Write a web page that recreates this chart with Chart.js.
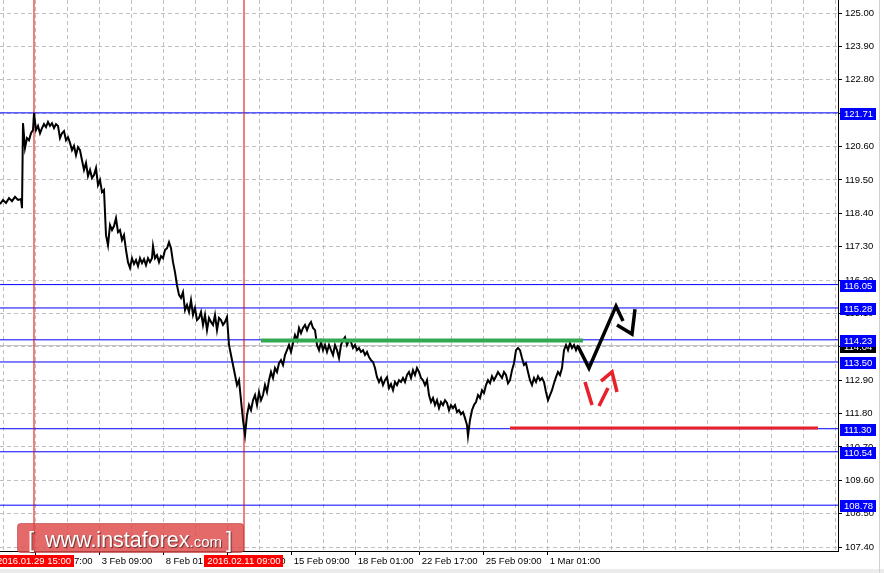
<!DOCTYPE html>
<html>
<head>
<meta charset="utf-8">
<script src="https://cdn.jsdelivr.net/npm/chart.js@4.4.1/dist/chart.umd.min.js"></script>
<style>
  html, body { margin: 0; padding: 0; background: #fff; overflow: hidden; }
  #wrap { position: relative; width: 884px; height: 573px; }
</style>
</head>
<body>
<div id="wrap"><canvas id="chart" width="884" height="573"></canvas></div>
<script>
// H1 bars, one bar per hour of trading
const priceBars = [
  0, 3, 6, 9, 12, 15, 18, 21, 22, 23, 25, 27, 29, 31, 33, 34, 36, 38, 40, 42,
  44, 46, 48, 50, 52, 54, 56, 58, 60, 62, 64, 66, 68, 70, 72, 74, 76, 78, 80, 82,
  84, 86, 88, 90, 92, 94, 96, 98, 100, 102, 104, 106, 108, 110, 112, 114, 116, 118, 120, 122,
  124, 126, 128, 130, 132, 134, 136, 138, 140, 142, 144, 146, 148, 150, 152, 153, 155, 157, 159, 161,
  163, 165, 167, 169, 171, 173, 175, 177, 179, 181, 183, 185, 187, 189, 191, 193, 195, 197, 199, 201,
  203, 205, 207, 209, 211, 213, 215, 217, 219, 221, 223, 225, 227, 229, 231, 233, 235, 237, 239, 241,
  243, 245, 247, 249, 251, 253, 255, 257, 259, 261, 263, 265, 267, 269, 271, 273, 275, 277, 279, 281,
  283, 285, 287, 289, 291, 293, 295, 297, 299, 301, 303, 305, 307, 309, 311, 313, 315, 317, 319, 321,
  323, 325, 327, 329, 331, 333, 335, 337, 339, 341, 343, 345, 347, 349, 351, 353, 355, 357, 359, 361,
  363, 365, 367, 369, 371, 373, 375, 377, 379, 381, 383, 385, 387, 389, 391, 393, 395, 397, 399, 401,
  403, 405, 407, 409, 411, 413, 415, 417, 419, 421, 423, 425, 427, 429, 431, 433, 435, 437, 439, 441,
  443, 445, 447, 449, 451, 453, 455, 457, 459, 461, 463, 465, 467, 468, 470, 472, 474, 476, 478, 480,
  482, 484, 486, 488, 490, 492, 494, 496, 498, 500, 502, 504, 506, 508, 510, 512, 514, 516, 518, 520,
  522, 524, 526, 528, 530, 532, 534, 536, 538, 540, 542, 544, 546, 548, 550, 552, 554, 556, 558, 560,
  562, 564, 566, 568, 570, 572, 574, 576, 578
];
const prices = [
  118.70, 118.84, 118.74, 118.90, 118.80, 118.94, 118.84, 118.87, 118.57, 121.37, 120.55, 120.88, 120.81, 121.04, 121.14, 121.70, 121.14, 121.28, 121.04, 121.21,
  121.34, 121.24, 121.41, 121.28, 121.37, 121.21, 121.34, 121.28, 120.88, 121.04, 121.11, 120.81, 120.91, 120.72, 120.48, 120.62, 120.32, 120.58, 120.48, 120.15,
  119.83, 120.06, 119.63, 119.83, 119.56, 119.66, 119.89, 119.33, 119.50, 119.10, 119.17, 117.68, 117.35, 118.01, 117.85, 117.98, 118.24, 117.78, 117.85, 117.52,
  117.68, 117.19, 116.79, 116.60, 116.92, 116.73, 116.86, 116.66, 116.92, 116.76, 116.89, 116.69, 116.92, 116.79, 116.92, 117.32, 116.92, 117.02, 116.79, 116.99,
  116.92, 117.19, 117.25, 117.45, 117.25, 116.79, 116.46, 116.03, 115.71, 115.61, 115.80, 115.21, 115.38, 115.15, 115.54, 115.05, 115.28, 114.88, 114.95, 115.15,
  114.72, 115.05, 114.55, 114.95, 114.82, 114.72, 115.05, 114.55, 114.95, 114.88, 114.72, 114.82, 114.98, 114.06, 113.73, 113.40, 113.07, 112.74, 112.90, 112.24,
  111.59, 111.09, 111.75, 112.08, 111.91, 112.24, 112.41, 112.08, 112.51, 112.24, 112.41, 112.74, 112.51, 112.90, 113.17, 112.97, 113.30, 113.17, 113.46, 113.56,
  113.40, 113.73, 113.89, 114.06, 113.83, 114.12, 114.39, 114.22, 114.62, 114.45, 114.62, 114.72, 114.55, 114.72, 114.82, 114.62, 114.55, 114.06, 113.89, 114.16,
  113.89, 114.06, 113.83, 114.06, 113.89, 113.73, 114.06, 113.89, 113.63, 114.06, 114.22, 114.32, 114.06, 114.22, 114.16, 113.96, 114.06, 113.89, 113.96, 113.83,
  113.89, 113.73, 113.83, 113.66, 113.56, 113.50, 113.30, 113.00, 112.84, 112.97, 112.74, 112.90, 113.00, 112.64, 112.77, 112.57, 112.84, 112.74, 112.90, 112.84,
  112.97, 112.84, 113.07, 113.17, 112.97, 113.23, 113.07, 113.30, 113.17, 112.97, 112.90, 112.74, 112.90, 112.41, 112.18, 112.31, 112.08, 112.24, 111.98, 112.18,
  112.08, 112.24, 112.15, 111.91, 112.08, 111.98, 112.08, 111.85, 111.91, 111.78, 111.85, 111.65, 111.42, 111.06, 111.59, 111.91, 112.08, 112.18, 112.41, 112.31,
  112.57, 112.48, 112.74, 112.90, 112.80, 113.03, 112.90, 113.03, 113.17, 113.07, 112.97, 113.17, 113.07, 112.80, 112.90, 113.23, 113.46, 113.89, 113.96, 113.89,
  113.63, 113.40, 113.46, 113.17, 112.90, 112.74, 112.97, 112.84, 113.03, 112.90, 112.97, 112.84, 112.51, 112.24, 112.41, 112.57, 112.80, 113.00, 113.17, 113.07,
  113.30, 113.89, 114.06, 113.89, 114.12, 113.96, 114.06, 113.89, 114.06
];

// hand-drawn forecast arrows (null = pen lifted)
const blackArrowBars = [578, 589, 616, 623, 620, 617, 632, 635];
const blackArrowPrices = [114.02, 113.30, 115.34, 114.85, null, 114.72, 114.42, 115.24];
const redArrowBars = [585, 592, 595, 599, 608, 604, 601, 612, 617];
const redArrowPrices = [112.84, 112.08, null, 112.05, 112.64, null, 112.87, 113.17, 112.51];

// support / resistance levels (blue) and drawn lines
const levels = [121.71, 116.05, 115.28, 114.23, 113.50, 111.30, 110.54, 108.78];
const bidPrice = 114.04;
const greenLine = { from: 261, to: 583, price: 114.21 };
const redLine = { from: 510, to: 818, price: 111.32 };

// vertical markers
const markerBars = [34, 244];
const markerLabels = ['2016.01.29 15:00', '2016.02.11 09:00'];

// axes
const yTicks = [107.40, 108.50, 109.60, 110.70, 111.80, 112.90, 114.00, 115.10, 116.20,
  117.30, 118.40, 119.50, 120.60, 121.70, 122.80, 123.90, 125.00];
const xTickBars = [35, 99, 163, 227, 291, 355, 419, 483, 547];
const xTickLabels = ['29 Jan 17:00', '3 Feb 09:00', '8 Feb 01:00', '10 Feb 17:00', '15 Feb 09:00',
  '18 Feb 01:00', '22 Feb 17:00', '25 Feb 09:00', '1 Mar 01:00'];
const xGridBars = Array.from({ length: 27 }, (_, i) => 3 + 32 * i);

const X_MAX = 838;
const FONT = '"Liberation Sans", Arial, sans-serif';

const pts = (xs, ys) => xs.map((x, i) => ({ x, y: ys[i] }));
const hline = (v, a, b) => [{ x: a, y: v }, { x: b, y: v }];

const datasets = [];
datasets.push({ data: hline(bidPrice, 0, X_MAX), borderColor: '#c0c0c0', borderWidth: 1, order: 10 });
levels.forEach(v => datasets.push({ data: hline(v, 0, X_MAX), borderColor: '#0000ff', borderWidth: 1, order: 9 }));
markerBars.forEach(b => datasets.push({ data: [{ x: b, y: 100 }, { x: b, y: 130 }], borderColor: '#e00000', borderWidth: 1, order: 8 }));
datasets.push({ data: pts(priceBars, prices), borderColor: '#000', borderWidth: 2, order: 7 });
datasets.push({ data: hline(greenLine.price, greenLine.from, greenLine.to), borderColor: '#33a852', borderWidth: 4, order: 6 });
datasets.push({ data: hline(redLine.price, redLine.from, redLine.to), borderColor: '#e5202a', borderWidth: 3, order: 5 });
datasets.push({ data: pts(blackArrowBars, blackArrowPrices), borderColor: '#000', borderWidth: 3.5, order: 4 });
datasets.push({ data: pts(redArrowBars, redArrowPrices), borderColor: '#e8202a', borderWidth: 3.5, order: 3 });

function valueBox(ctx, x0, py, color, text) {
  ctx.fillStyle = color;
  ctx.fillRect(x0, Math.round(py) - 5, 36, 12);
  ctx.fillStyle = '#fff';
  ctx.fillText(text, x0 + 4, Math.round(py) + 1);
}

const overlay = {
  id: 'overlay',
  afterDraw(chart) {
    const { ctx, chartArea, scales: { x, y } } = chart;
    ctx.save();
    ctx.font = '9.5px ' + FONT;
    ctx.textBaseline = 'middle';
    ctx.textAlign = 'left';
    const bx = chartArea.right + 2;
    valueBox(ctx, bx, y.getPixelForValue(bidPrice), '#000', bidPrice.toFixed(2));
    levels.forEach(v => valueBox(ctx, bx, y.getPixelForValue(v), '#0000ff', v.toFixed(2)));

    // marker date labels on the time axis
    ctx.textAlign = 'center';
    markerBars.forEach((b, i) => {
      const px = x.getPixelForValue(b);
      const w = ctx.measureText(markerLabels[i]).width + 6;
      ctx.fillStyle = '#ff0000';
      ctx.fillRect(Math.round(px - w / 2), chartArea.bottom + 4, Math.round(w), 12);
      ctx.fillStyle = '#fff';
      ctx.fillText(markerLabels[i], px, chartArea.bottom + 10.5);
    });

    // bottom strip and neighbouring window edge
    ctx.fillStyle = '#ececec';
    ctx.fillRect(0, 569, 884, 4);
    ctx.fillStyle = '#d0d0d0';
    ctx.fillRect(879, 0, 1, 573);

    // watermark
    ctx.fillStyle = 'rgba(222, 72, 72, 0.82)';
    ctx.strokeStyle = 'rgba(170, 40, 40, 0.5)';
    ctx.beginPath();
    ctx.roundRect(17.5, 523.5, 226, 29, 3);
    ctx.fill();
    ctx.stroke();
    ctx.shadowColor = 'rgba(0,0,0,0.55)';
    ctx.shadowOffsetX = 1;
    ctx.shadowOffsetY = 1;
    ctx.shadowBlur = 1;
    ctx.fillStyle = '#fff';
    ctx.textAlign = 'left';
    ctx.textBaseline = 'alphabetic';
    ctx.font = '22px ' + FONT;
    ctx.fillText('[', 28, 547);
    ctx.font = '21.5px ' + FONT;
    ctx.fillText('www.instaforex', 45, 547);
    const w1 = ctx.measureText('www.instaforex').width;
    ctx.font = '15px ' + FONT;
    ctx.fillText('.com', 45 + w1, 547);
    ctx.font = '22px ' + FONT;
    ctx.fillText(']', 226, 547);
    ctx.restore();
  }
};

new Chart(document.getElementById('chart'), {
  type: 'line',
  data: { datasets },
  plugins: [overlay],
  options: {
    responsive: false,
    animation: false,
    devicePixelRatio: 1,
    events: [],
    layout: { padding: 0 },
    elements: {
      point: { radius: 0 },
      line: { tension: 0, borderJoinStyle: 'miter', borderCapStyle: 'butt', fill: false }
    },
    spanGaps: false,
    plugins: { legend: { display: false }, tooltip: { enabled: false } },
    scales: {
      x: {
        type: 'linear',
        position: 'bottom',
        min: 0,
        max: X_MAX,
        afterBuildTicks: s => { s.ticks = xGridBars.map(v => ({ value: v })); },
        afterFit: s => { s.height = 22; s.paddingLeft = 0; s.paddingRight = 0; },
        grid: {
          color: '#c0c0c0',
          lineWidth: 1,
          tickLength: 4,
          tickColor: c => (xTickBars.includes(c.tick && c.tick.value) ? '#000' : 'rgba(0,0,0,0)')
        },
        border: { display: true, color: '#000', width: 1, dash: [4, 3] },
        ticks: {
          autoSkip: false,
          maxRotation: 0,
          align: 'start',
          padding: 1,
          color: '#000',
          font: { family: FONT, size: 9.5 },
          callback: v => {
            const i = xTickBars.indexOf(v);
            return i >= 0 ? ' ' + xTickLabels[i] : '';
          }
        }
      },
      y: {
        type: 'linear',
        position: 'right',
        min: 107.27,
        max: 125.43,
        afterBuildTicks: s => { s.ticks = yTicks.map(v => ({ value: v })); },
        afterFit: s => { s.width = 46; s.paddingTop = 0; s.paddingBottom = 0; },
        grid: { color: '#c0c0c0', lineWidth: 1, tickLength: 4, tickColor: '#000' },
        border: { display: true, color: '#000', width: 1, dash: [4, 3] },
        ticks: {
          padding: 3,
          color: '#000',
          font: { family: FONT, size: 9.5 },
          callback: v => v.toFixed(2)
        }
      }
    }
  }
});
</script>
</body>
</html>
